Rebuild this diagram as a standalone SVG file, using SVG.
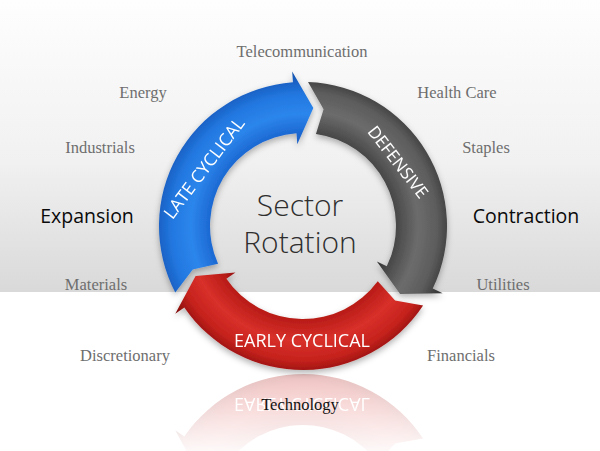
<svg xmlns="http://www.w3.org/2000/svg" xmlns:xlink="http://www.w3.org/1999/xlink" width="600" height="451" viewBox="0 0 600 451">
<defs>
  <linearGradient id="bg" gradientUnits="userSpaceOnUse" x1="0" y1="0" x2="0" y2="292">
    <stop offset="0" stop-color="#fefefe"/>
    <stop offset="0.55" stop-color="#f1f1f1"/>
    <stop offset="1" stop-color="#d9d9d9"/>
  </linearGradient>
  <radialGradient id="gBlue" gradientUnits="userSpaceOnUse" cx="303" cy="226" r="160">
    <stop offset="0.5" stop-color="#1a5ec2"/>
    <stop offset="0.58" stop-color="#1c68d2"/>
    <stop offset="0.7" stop-color="#2c86ec"/>
    <stop offset="0.82" stop-color="#2278e0"/>
    <stop offset="0.9" stop-color="#1a62c6"/>
    <stop offset="0.97" stop-color="#154fa6"/>
  </radialGradient>
  <radialGradient id="gGrey" gradientUnits="userSpaceOnUse" cx="303" cy="226" r="160">
    <stop offset="0.5" stop-color="#2c2c2c"/>
    <stop offset="0.58" stop-color="#474747"/>
    <stop offset="0.72" stop-color="#6c6c6c"/>
    <stop offset="0.84" stop-color="#5c5c5c"/>
    <stop offset="0.9" stop-color="#464646"/>
    <stop offset="0.97" stop-color="#303030"/>
  </radialGradient>
  <radialGradient id="gRed" gradientUnits="userSpaceOnUse" cx="303" cy="226" r="160">
    <stop offset="0.5" stop-color="#8a0f0e"/>
    <stop offset="0.58" stop-color="#b81b17"/>
    <stop offset="0.72" stop-color="#d8302a"/>
    <stop offset="0.84" stop-color="#c6221d"/>
    <stop offset="0.9" stop-color="#a31612"/>
    <stop offset="0.97" stop-color="#7a0b0b"/>
  </radialGradient>
  <linearGradient id="fade" gradientUnits="userSpaceOnUse" x1="0" y1="372" x2="0" y2="451">
    <stop offset="0" stop-color="#fff" stop-opacity="0.28"/>
    <stop offset="1" stop-color="#fff" stop-opacity="0.03"/>
  </linearGradient>
  <mask id="reflMask" maskUnits="userSpaceOnUse" x="0" y="370" width="600" height="81">
    <rect x="0" y="370" width="600" height="81" fill="url(#fade)"/>
  </mask>
  <filter id="sh" x="-20%" y="-20%" width="140%" height="140%">
    <feDropShadow dx="0" dy="3" stdDeviation="3" flood-color="#000" flood-opacity="0.3"/>
  </filter>
  <g id="redShape">
    <path fill="url(#gRed)" d="M423.08,305.48 A144,144 0 0 1 184.33,307.56 L175.26,313.79 L195.60,276.08 L235.42,272.45 L226.36,278.68 A93,93 0 0 0 377.76,281.32 L395.09,300.57 Z"/>
    <text class="arrowTxt" x="302" y="346.5" font-size="18">EARLY CYCLICAL</text>
  </g>
</defs>
<style>
  .lbl { font-family: "Liberation Serif", "Times New Roman", serif; font-size: 16.5px; fill: #6e6e6e; text-anchor: middle; }
  .phase { font-family: "Open Sans", "Liberation Sans", sans-serif; font-size: 19.5px; font-weight: 400; fill: #0a0a0a; text-anchor: middle; }
  .arrowTxt { font-family: "Open Sans", "Liberation Sans", sans-serif; fill: #ffffff; text-anchor: middle; }
  .title { font-family: "Open Sans", "Liberation Sans", sans-serif; font-size: 30px; font-weight: 300; fill: #2e2e2e; text-anchor: middle; }
</style>

<rect x="0" y="0" width="600" height="292" fill="url(#bg)"/>
<rect x="0" y="292" width="600" height="159" fill="#ffffff"/>

<!-- reflection of the red arrow -->
<g id="reflection" mask="url(#reflMask)">
  <use xlink:href="#redShape" href="#redShape" transform="translate(0,744) scale(1,-1)"/>
</g>

<g id="late-cyclical" filter="url(#sh)">
  <path fill="url(#gBlue)" d="M175.27,292.49 A144,144 0 0 1 292.95,82.35 L292.19,71.38 L313.33,107.95 L297.28,144.20 L296.51,133.23 A93,93 0 0 0 218.04,263.83 L192.75,269.43 Z"/>
  <text class="arrowTxt" font-size="17.5" transform="translate(204,168) rotate(-53)" dy="6.2">LATE CYCLICAL</text>
</g>

<g id="defensive" filter="url(#sh)">
  <path fill="url(#gGrey)" d="M308.03,82.09 A144,144 0 0 1 432.76,288.45 L442.67,293.22 L400.07,293.97 L376.89,261.56 L386.80,266.33 A93,93 0 0 0 315.94,133.91 L323.58,109.30 Z"/>
  <text class="arrowTxt" font-size="17" transform="translate(398,162) rotate(52)" dy="6">DEFENSIVE</text>
</g>

<g id="early-cyclical" filter="url(#sh)">
  <use xlink:href="#redShape" href="#redShape"/>
</g>

<g id="center-title">
  <text class="title" x="300" y="216">Sector</text>
  <text class="title" x="300" y="253">Rotation</text>
</g>

<g id="phases">
  <text class="phase" x="87" y="223">Expansion</text>
  <text class="phase" x="526" y="223">Contraction</text>
</g>

<g id="sectors">
  <text class="lbl" x="302" y="57">Telecommunication</text>
  <text class="lbl" x="143" y="98">Energy</text>
  <text class="lbl" x="457" y="98">Health Care</text>
  <text class="lbl" x="100" y="153">Industrials</text>
  <text class="lbl" x="486" y="153">Staples</text>
  <text class="lbl" x="96" y="290">Materials</text>
  <text class="lbl" x="503" y="290">Utilities</text>
  <text class="lbl" x="125" y="361">Discretionary</text>
  <text class="lbl" x="461" y="361">Financials</text>
  <text class="lbl" x="300" y="410" style="fill:#111">Technology</text>
</g>
</svg>
